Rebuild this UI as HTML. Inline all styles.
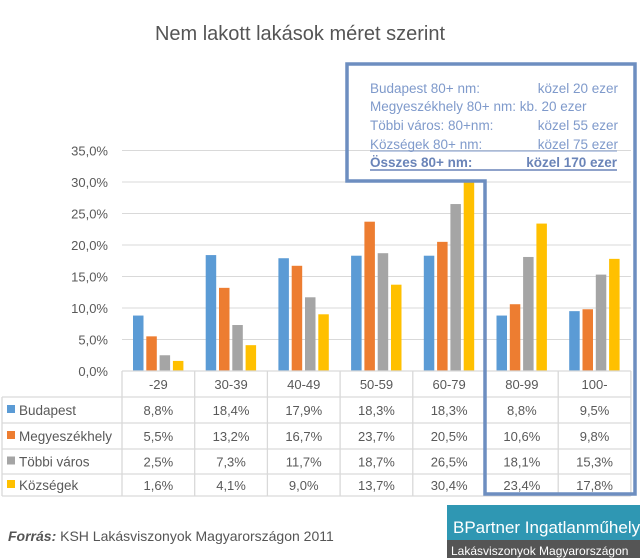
<!DOCTYPE html>
<html><head><meta charset="utf-8"><style>
body{margin:0;background:#fff;font-family:"Liberation Sans",sans-serif;}
#wrap{position:relative;width:640px;height:558px;overflow:hidden;}
</style></head><body>
<div id="wrap">
<svg id="svg" width="640" height="558" xmlns="http://www.w3.org/2000/svg">
<text x="300" y="40" text-anchor="middle" font-size="20" fill="#555">Nem lakott lakások méret szerint</text>
<g id="grid"></g><g id="bars"></g><g id="table"></g>
<polygon points="347,64 635,64 635,494 485,494 485,181 347,181" fill="none" stroke="#6d8ec0" stroke-width="3.5"/>
<g font-size="13.5" fill="#7f9acb">
<text x="370" y="93">Budapest 80+ nm:</text><text x="618" y="93" text-anchor="end">közel 20 ezer</text>
<text x="370" y="111">Megyeszékhely 80+ nm: kb. 20 ezer</text>
<text x="370" y="130">Többi város: 80+nm:</text><text x="618" y="130" text-anchor="end">közel 55 ezer</text>
<text x="370" y="149">Községek 80+ nm:</text><text x="618" y="149" text-anchor="end">közel 75 ezer</text>
<line x1="370" y1="151" x2="617" y2="151" stroke="#7f9acb" stroke-width="1"/>
<text x="370" y="167" font-weight="bold" fill="#6a84b8">Összes 80+ nm:</text><text x="617" y="167" text-anchor="end" font-weight="bold" fill="#6a84b8">közel 170 ezer</text>
<line x1="370" y1="170" x2="617" y2="170" stroke="#6a84b8" stroke-width="1.5"/>
</g>
<text x="8" y="541" font-size="14" fill="#555"><tspan font-weight="bold" font-style="italic">Forrás:</tspan> KSH Lakásviszonyok Magyarországon 2011</text>
<g>
<rect x="447" y="505" width="193" height="37" fill="#2f97b3"/>
<rect x="447" y="540" width="193" height="18" fill="#555"/>
<text x="453" y="533" font-size="17" fill="#fff">BPartner Ingatlanműhely</text>
<text x="451" y="555" font-size="12" fill="#fff">Lakásviszonyok Magyarországon</text>
</g>
</svg>
</div>
<script>
const categories=["-29","30-39","40-49","50-59","60-79","80-99","100-"];
const seriesNames=["Budapest","Megyeszékhely","Többi város","Községek"];
const budapest=[8.8,18.4,17.9,18.3,18.3,8.8,9.5];
const megyeszekhely=[5.5,13.2,16.7,23.7,20.5,10.6,9.8];
const tobbiVaros=[2.5,7.3,11.7,18.7,26.5,18.1,15.3];
const kozsegek=[1.6,4.1,9.0,13.7,30.4,23.4,17.8];
const yTicks=[0,5,10,15,20,25,30,35];
const series=[budapest,megyeszekhely,tobbiVaros,kozsegek];
const colors=["#5b9bd5","#ed7d31","#a5a5a5","#ffc000"];
const NS="http://www.w3.org/2000/svg";
const x0=122,cw=72.7,y0=371,yMax=35,plotH=220.5;
const y=v=>y0-v/yMax*plotH;
const fmt=v=>v.toFixed(1).replace('.',',')+'%';
function mk(tag,attrs,parent,text){const e=document.createElementNS(NS,tag);for(const k in attrs)e.setAttribute(k,attrs[k]);if(text!==undefined)e.textContent=text;document.getElementById(parent).appendChild(e);return e;}
yTicks.forEach(t=>{
 const l=mk('line',{x1:x0,x2:x0+cw*categories.length,y1:y(t),y2:y(t),stroke:'#d9d9d9','stroke-width':1},'grid');
 
 
 const tx=mk('text',{x:108,y:y(t)+5,'text-anchor':'end','font-size':13,fill:'#595959'},'grid',fmt(t));
 
 
});
series.forEach((s,si)=>{s.forEach((v,ci)=>{
 const bx=x0+ci*cw+11+si*13.3;
 const r=mk('rect',{x:bx,y:y(v),width:10.5,height:y0-y(v),fill:colors[si]},'bars');
 
 
});});
// table
const rowY=[371,397,423,449,474,496];
const tl=(x1,y1,x2,y2)=>mk('line',{x1,y1,x2,y2,stroke:'#d9d9d9','stroke-width':1.3},'table');
for(let i=0;i<=categories.length;i++)tl(x0+i*cw,371,x0+i*cw,496);
tl(2,397,2,496);
for(let r=0;r<rowY.length;r++)tl(r===0?x0:2,rowY[r],x0+cw*categories.length,rowY[r]);
categories.forEach((c,ci)=>{
 const t=mk('text',{x:x0+ci*cw+cw/2,y:389,'text-anchor':'middle','font-size':13,fill:'#595959'},'table',c);
 
 
});
series.forEach((s,si)=>{
 const cy=rowY[si+1]+(rowY[si+2]-rowY[si+1])/2+5;
 const sw=mk('rect',{x:7,y:cy-10,width:8,height:8,fill:colors[si]},'table');
 
 
 const lt=mk('text',{x:19,y:cy,'font-size':13.5,fill:'#595959'},'table',seriesNames[si]);
 
 
 s.forEach((v,ci)=>{
  const t=mk('text',{x:x0+ci*cw+cw/2,y:cy,'text-anchor':'middle','font-size':13,fill:'#595959'},'table',fmt(v));
  
  
 });
});
</script>
</body></html>
